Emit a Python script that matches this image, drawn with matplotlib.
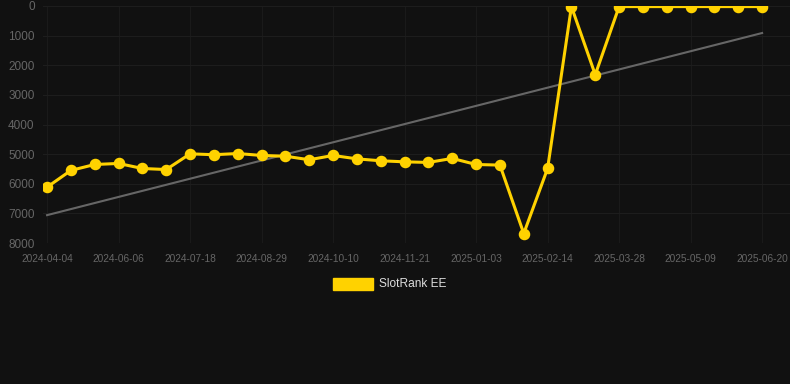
import matplotlib.pyplot as plt
import matplotlib.patches as mpatches
import numpy as np

plt.rcParams['font.family'] = ['Liberation Sans', 'DejaVu Sans']

# weekly snapshots, every third one gets a tick label
dates = ['2024-04-04', '2024-04-25', '2024-05-16', '2024-06-06', '2024-06-27',
         '2024-07-04', '2024-07-18', '2024-07-31', '2024-08-15', '2024-08-29',
         '2024-09-12', '2024-09-26', '2024-10-10', '2024-10-24', '2024-11-07',
         '2024-11-21', '2024-12-05', '2024-12-19', '2025-01-03', '2025-01-17',
         '2025-01-31', '2025-02-14', '2025-02-28', '2025-03-14', '2025-03-28',
         '2025-04-11', '2025-04-25', '2025-05-09', '2025-05-23', '2025-06-06',
         '2025-06-20']
rank = [6115, 5550, 5350, 5315, 5485, 5520, 4990, 5020, 4980, 5045,
        5070, 5190, 5045, 5160, 5225, 5260, 5280, 5145, 5350, 5370,
        7680, 5485, 20, 2320, 20, 20, 20, 20, 20, 20, 20]
trend_start, trend_end = 7060, 912

bg = '#111111'
x = np.arange(len(rank))

fig = plt.figure(figsize=(7.9, 3.84), dpi=100, facecolor=bg)
ax = fig.add_axes([43 / 790, 1 - 243 / 384, 747 / 790, 237 / 384])
ax.set_facecolor(bg)

ax.plot([x[0], x[-1]], [trend_start, trend_end], color='#666666', lw=1.5, zorder=2)
ax.plot(x, rank, color='#ffd200', lw=2.2, marker='o', markersize=7.3, zorder=3)

ax.set_xlim(-0.17, 31.17)
ax.set_ylim(8000, 0)
ax.set_yticks(range(0, 8001, 1000))
ax.set_xticks(x[::3])
ax.set_xticklabels(dates[::3])
ax.tick_params(axis='x', colors='#666666', labelsize=7.3, length=0, pad=8)
ax.tick_params(axis='y', colors='#666666', labelsize=8.5, length=0, pad=6)
ax.grid(True, axis='y', color='#1d1d1d', lw=0.8)
ax.grid(True, axis='x', color='#1a1a1a', lw=0.8)
for s in ax.spines.values():
    s.set_visible(False)

# legend box under the chart
fig.patches.append(mpatches.Rectangle((333 / 790, 1 - 290 / 384), 40 / 790, 12 / 384,
                                      transform=fig.transFigure, color='#ffd200'))
fig.text(379 / 790, 1 - 284 / 384, 'SlotRank EE', color='#dddddd', fontsize=8.6,
         va='center', ha='left')

fig.savefig('out.png', dpi=100, facecolor=bg)
